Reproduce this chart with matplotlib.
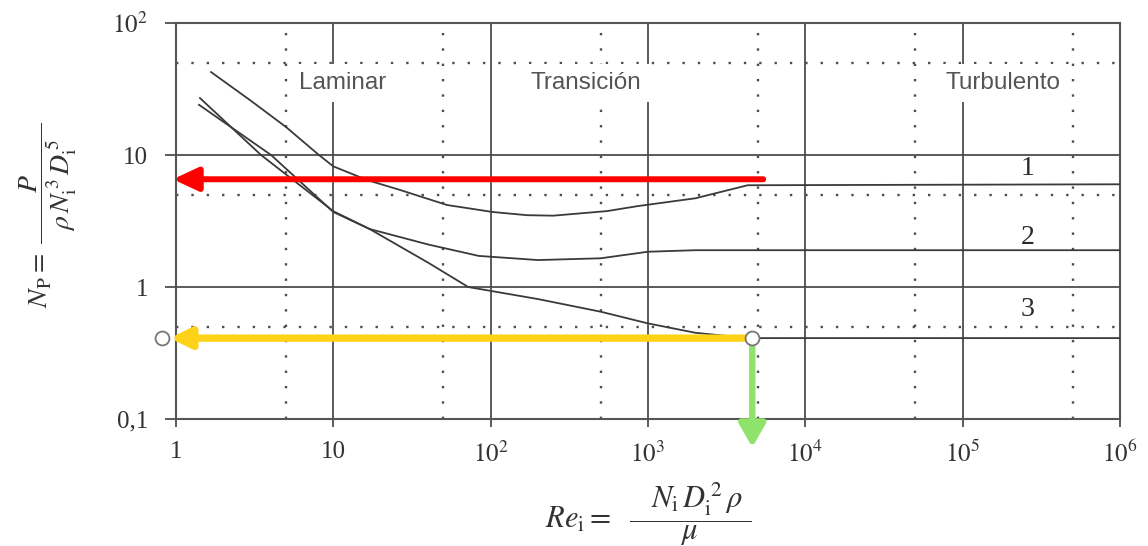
# Power number chart (Np vs Re) for stirred tanks, with reading arrows
import numpy as np
import matplotlib.pyplot as plt
from matplotlib.ticker import FixedLocator

plt.rcParams['mathtext.fontset'] = 'stix'
plt.rcParams['font.family'] = ['Liberation Serif', 'DejaVu Serif']

# curves (Re, Np)
re_1 = [1.67, 3, 5, 8.1, 10, 16.4, 26.6, 52.8, 103, 170, 250, 550, 860, 2000, 4300, 1e6]
np_1 = [42.5, 25.7, 16.3, 10.0, 8.2, 6.46, 5.43, 4.18, 3.7, 3.5, 3.47, 3.76, 4.1, 4.7, 5.9, 6.0]

re_2 = [1.42, 3.47, 10, 17, 40, 84, 200, 500, 1000, 2000, 1e6]
np_2 = [27, 10, 3.75, 2.75, 2.1, 1.72, 1.6, 1.65, 1.85, 1.9, 1.9]

re_3 = [1.40, 4.02, 10, 17, 40, 72, 200, 500, 1000, 2000, 4300, 1e6]
np_3 = [24, 10, 3.7, 2.75, 1.53, 1.0, 0.81, 0.65, 0.53, 0.45, 0.41, 0.41]

# reading arrows
red_re = [5400, 0.955]
red_np = 6.55
op_re = 4600          # operating point on curve 3
op_np = 0.41
yellow_tip_re = 0.915
left_circle_re = 0.815
green_tip_np = 0.061

x_ticks = [1, 10, 1e2, 1e3, 1e4, 1e5, 1e6]
x_labels = ['1', '10', r'$\mathrm{10^{2}}$', r'$\mathrm{10^{3}}$', r'$\mathrm{10^{4}}$',
            r'$\mathrm{10^{5}}$', r'$\mathrm{10^{6}}$']
y_ticks = [0.1, 1, 10, 100]
y_labels = ['0,1', '1', '10', r'$\mathrm{10^{2}}$']
x_dotted = [5, 50, 500, 5e3, 5e4, 5e5]
y_dotted = [0.5, 5, 50]

regions = ['Laminar', 'Transición', 'Turbulento']
region_re = [11.5, 404, 1.81e5]
region_np = 35

curve_names = ['1', '2', '3']
curve_label_np = [7.97, 2.39, 0.68]
curve_label_re = 2.6e5

fig = plt.figure(figsize=(11.48, 5.46), dpi=100)
ax = fig.add_axes([176 / 1148, 1 - 419 / 546, 944 / 1148, 396 / 546])
ax.set_xscale('log')
ax.set_yscale('log')
ax.set_xlim(1, 1e6)
ax.set_ylim(0.1, 100)

ax.xaxis.set_major_locator(FixedLocator(x_ticks))
ax.yaxis.set_major_locator(FixedLocator(y_ticks))
ax.xaxis.set_minor_locator(FixedLocator(x_dotted))
ax.yaxis.set_minor_locator(FixedLocator(y_dotted))
ax.set_xticklabels(x_labels)
ax.set_yticklabels(y_labels)

ax.set_axisbelow(True)
ax.grid(True, which='major', color='#4d4d4d', lw=1.3, ls='-')
ax.grid(True, which='minor', color='#4d4d4d', lw=1.7, ls=(0, (1, 5.5)))
ax.tick_params(which='minor', length=0)
ax.tick_params(axis='y', which='major', direction='out', length=8, width=1.3,
               color='#4d4d4d', labelsize=18, labelcolor='#333333', pad=12)
ax.tick_params(axis='x', which='major', direction='out', length=6, width=1.3,
               color='#4d4d4d', labelsize=18, labelcolor='#333333', pad=10)
for s in ax.spines.values():
    s.set_color('#555555')
    s.set_linewidth(1.5)

for re, npw in [(re_1, np_1), (re_2, np_2), (re_3, np_3)]:
    ax.plot(re, npw, color='#3a3a3a', lw=1.3, zorder=3)

for name, x in zip(regions, region_re):
    ax.text(x, region_np, name, family='Liberation Sans', fontsize=17.5, color='#555555',
            ha='center', va='center', zorder=2,
            bbox=dict(fc='white', ec='none', pad=6))

for name, y in zip(curve_names, curve_label_np):
    ax.text(curve_label_re, y, name, fontsize=20, color='#2a2a2a',
            ha='center', va='center', zorder=2)

# red arrow
ax.annotate('', xy=(red_re[1], red_np), xytext=(red_re[0], red_np),
            arrowprops=dict(arrowstyle='-|>,head_length=0.75,head_width=0.35',
                            color='#ff0000', lw=4.3, shrinkA=0, shrinkB=0,
                            mutation_scale=20),
            annotation_clip=False, zorder=5)
# yellow arrow
ax.annotate('', xy=(yellow_tip_re, op_np), xytext=(op_re, op_np),
            arrowprops=dict(arrowstyle='-|>,head_length=0.6,head_width=0.3',
                            color='#ffd21a', lw=5.3, shrinkA=0, shrinkB=0,
                            mutation_scale=20),
            annotation_clip=False, zorder=5)
# green arrow
ax.annotate('', xy=(op_re, green_tip_np), xytext=(op_re, op_np),
            arrowprops=dict(arrowstyle='-|>,head_length=0.7,head_width=0.4',
                            color='#8fe36a', lw=4.6, shrinkA=0, shrinkB=0,
                            mutation_scale=20),
            annotation_clip=False, zorder=5)
ax.plot([op_re, left_circle_re], [op_np, op_np], 'o', ls='none', ms=10,
        mfc='white', mec='#777777', mew=1.3, clip_on=False, zorder=6)

fig.text(48 / 1148, 1 - 215 / 546,
         r'$N_{\mathrm{P}} = \ \dfrac{P}{\ \ \rho\, N_{\mathrm{i}}^{\,3}\, D_{\mathrm{i}}^{\,5}\ \ }$',
         rotation=90, ha='center', va='center', fontsize=20, color='#333333')
fig.text(648 / 1148, 1 - 514 / 546,
         r'$Re_{\mathrm{i}} = \ \ \dfrac{\quad N_{\mathrm{i}}\, D_{\mathrm{i}}^{\,2}\, \rho\ }{\mu}$',
         ha='center', va='center', fontsize=22, color='#333333')

fig.savefig('out.png', dpi=100)
